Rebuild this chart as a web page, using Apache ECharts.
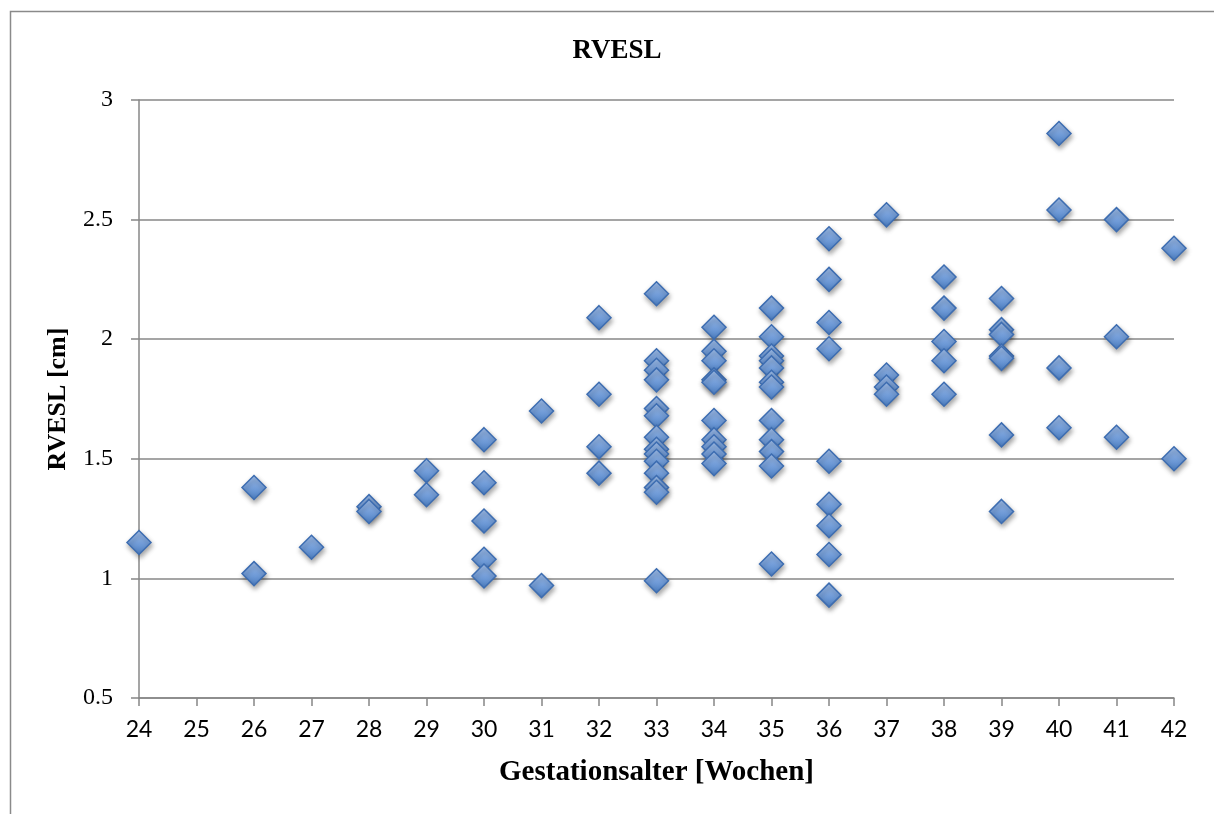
<!DOCTYPE html>
<html>
<head>
<meta charset="utf-8">
<title>RVESL</title>
<script src="https://cdn.jsdelivr.net/npm/echarts@6/dist/echarts.min.js"></script>
<style>
  html, body { margin: 0; padding: 0; background: #ffffff; }
  #chart { width: 1214px; height: 814px; }
</style>
</head>
<body>
<div id="chart"></div>
<script>
// Gestational age (weeks) and RVESL (cm), one entry per measurement
const gestationWeeks = [
  24,
  26, 26,
  27,
  28, 28,
  29, 29,
  30, 30, 30, 30, 30,
  31, 31,
  32, 32, 32, 32,
  33, 33, 33, 33, 33, 33, 33, 33, 33, 33, 33, 33, 33, 33,
  34, 34, 34, 34, 34, 34, 34, 34, 34, 34,
  35, 35, 35, 35, 35, 35, 35, 35, 35, 35, 35, 35,
  36, 36, 36, 36, 36, 36, 36, 36, 36,
  37, 37, 37, 37,
  38, 38, 38, 38, 38,
  39, 39, 39, 39, 39, 39, 39,
  40, 40, 40, 40,
  41, 41, 41,
  42, 42
];
const rveslCm = [
  1.15,
  1.38, 1.02,
  1.13,
  1.30, 1.28,
  1.45, 1.35,
  1.58, 1.40, 1.24, 1.08, 1.01,
  1.70, 0.97,
  2.09, 1.77, 1.55, 1.44,
  2.19, 1.91, 1.87, 1.83, 1.71, 1.68, 1.59, 1.54, 1.52, 1.49, 1.44, 1.38, 1.36, 0.99,
  2.05, 1.95, 1.91, 1.83, 1.82, 1.66, 1.58, 1.55, 1.52, 1.48,
  2.13, 2.01, 1.93, 1.91, 1.88, 1.82, 1.80, 1.66, 1.58, 1.53, 1.47, 1.06,
  2.42, 2.25, 2.07, 1.96, 1.49, 1.31, 1.22, 1.10, 0.93,
  2.52, 1.85, 1.80, 1.77,
  2.26, 2.13, 1.99, 1.91, 1.77,
  2.17, 2.04, 2.02, 1.93, 1.92, 1.60, 1.28,
  2.86, 2.54, 1.88, 1.63,
  2.50, 2.01, 1.59,
  2.38, 1.50
];

// Axis ranges
const xTicks = { min: 24, max: 42, step: 1 };
const yTicks = { min: 0.5, max: 3, step: 0.5 };

const chartTitle = 'RVESL';
const xAxisTitle = 'Gestationsalter [Wochen]';
const yAxisTitle = 'RVESL [cm]';

const points = gestationWeeks.map((w, i) => [w, rveslCm[i]]);

const gridGray = '#878787';
const serif = '"Liberation Serif", "DejaVu Serif", serif';
const sans = 'Lato, "Open Sans", sans-serif';

const chart = echarts.init(document.getElementById('chart'), null, { renderer: 'canvas' });

chart.setOption({
  backgroundColor: '#ffffff',
  animation: false,
  graphic: [{
    type: 'rect',
    left: 8, top: 9,
    shape: { width: 1400, height: 1000 },
    style: { fill: 'none', stroke: '#8a8a8a', lineWidth: 1.5 },
    silent: true,
    z: -10
  }],
  title: {
    text: chartTitle,
    left: 612, top: 33,
    textAlign: 'center',
    textStyle: { fontFamily: serif, fontWeight: 'bold', fontSize: 27, color: '#000' }
  },
  grid: { left: 139, right: 40, top: 100, bottom: 116, containLabel: false },
  xAxis: {
    type: 'value',
    min: xTicks.min, max: xTicks.max, interval: xTicks.step,
    name: xAxisTitle,
    nameLocation: 'middle',
    nameGap: 60,
    nameTextStyle: { fontFamily: serif, fontWeight: 'bold', fontSize: 29, color: '#000' },
    axisLine: { show: true, onZero: false, lineStyle: { color: gridGray, width: 1.5 } },
    axisTick: { show: true, inside: false, length: 8, lineStyle: { color: gridGray, width: 1.5 } },
    axisLabel: { margin: 20, fontFamily: sans, fontSize: 23, color: '#000' },
    splitLine: { show: false }
  },
  yAxis: {
    type: 'value',
    min: yTicks.min, max: yTicks.max, interval: yTicks.step,
    name: yAxisTitle,
    nameLocation: 'middle',
    nameGap: 68,
    nameRotate: 90,
    nameTextStyle: { fontFamily: serif, fontWeight: 'bold', fontSize: 26, color: '#000' },
    axisLine: { show: true, onZero: false, lineStyle: { color: gridGray, width: 1.5 } },
    axisTick: { show: true, inside: false, length: 8, lineStyle: { color: gridGray, width: 1.5 } },
    axisLabel: { margin: 26, fontFamily: serif, fontSize: 24, color: '#000' },
    splitLine: { show: true, lineStyle: { color: gridGray, width: 1.5 } }
  },
  series: [{
    type: 'scatter',
    data: points,
    symbol: 'diamond',
    symbolSize: 24,
    itemStyle: {
      color: new echarts.graphic.LinearGradient(0, 0, 0, 1, [
        { offset: 0, color: '#a3c1ed' },
        { offset: 0.5, color: '#76a0db' },
        { offset: 1, color: '#4a7dc1' }
      ]),
      borderColor: '#3d6db1',
      borderWidth: 1.5,
      opacity: 1,
      shadowBlur: 5,
      shadowColor: 'rgba(0,0,0,0.35)',
      shadowOffsetX: 1,
      shadowOffsetY: 3
    },
    emphasis: { disabled: true }
  }]
});
</script>
</body>
</html>
